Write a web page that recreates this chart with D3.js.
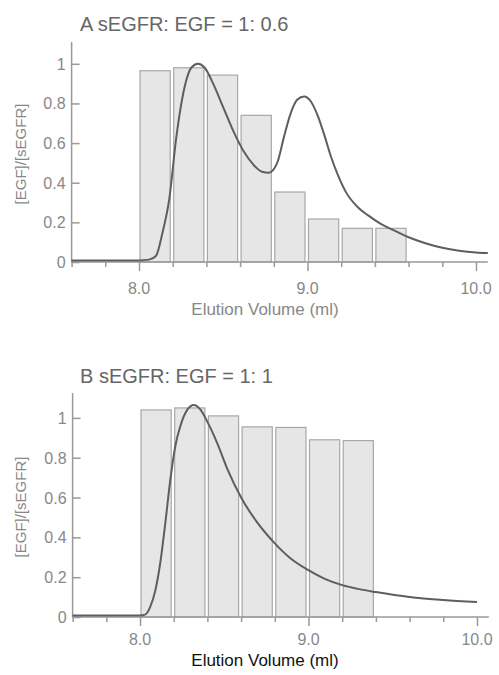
<!DOCTYPE html>
<html>
<head>
<meta charset="utf-8">
<script src="https://cdn.jsdelivr.net/npm/d3@7"></script>
<style>
  body { margin: 0; background: #fff; }
  svg { display: block; font-family: "Liberation Sans", Arial, sans-serif; }
</style>
</head>
<body>
<div id="chart"></div>
<script>
'use strict';

// bins are 0.2 ml wide, starting at these volumes
let binStartsA = [8.0, 8.2, 8.4, 8.6, 8.8, 9.0, 9.2, 9.4];
let ratioA = [0.965, 0.98, 0.943, 0.74, 0.353, 0.217, 0.17, 0.17];
let binStartsB = [8.0, 8.2, 8.4, 8.6, 8.8, 9.0, 9.2];
let ratioB = [1.04, 1.05, 1.01, 0.955, 0.952, 0.89, 0.886];

// elution profile traces (normalised)
let curveVolA = [7.6, 7.9, 8.0, 8.06, 8.1, 8.14, 8.18, 8.22, 8.27, 8.31, 8.35, 8.39, 8.44, 8.5, 8.56, 8.62, 8.68,
    8.73, 8.77, 8.82, 8.86, 8.9, 8.94, 8.98, 9.02, 9.06, 9.1, 9.14, 9.18, 9.23, 9.3, 9.36, 9.43, 9.5, 9.6, 9.7, 9.8, 9.9, 10.0, 10.07];
let curveValA = [0.008, 0.008, 0.008, 0.012, 0.03, 0.15, 0.32, 0.62, 0.88, 0.98, 1.0, 0.98, 0.9, 0.78, 0.66, 0.56, 0.49,
    0.455, 0.45, 0.5, 0.63, 0.75, 0.82, 0.835, 0.81, 0.74, 0.64, 0.53, 0.44, 0.35, 0.275, 0.235, 0.195, 0.165, 0.125, 0.095, 0.072, 0.057, 0.048, 0.045];
let curveVolB = [7.6, 8.0, 8.03, 8.06, 8.09, 8.12, 8.15, 8.18, 8.21, 8.24, 8.28, 8.32, 8.36, 8.4, 8.46, 8.52, 8.6, 8.7,
    8.8, 8.9, 9.0, 9.1, 9.2, 9.3, 9.4, 9.6, 9.8, 10.0];
let curveValB = [0.008, 0.008, 0.012, 0.05, 0.13, 0.27, 0.47, 0.69, 0.86, 0.96, 1.04, 1.065, 1.04, 0.98, 0.87, 0.74, 0.6, 0.47,
    0.37, 0.29, 0.235, 0.19, 0.16, 0.14, 0.125, 0.1, 0.085, 0.075];

let yTicks = [0, 0.2, 0.4, 0.6, 0.8, 1];
let xMajorTicks = [8.0, 9.0, 10.0];
let xMinorTicks = d3.range(7.6, 10.05, 0.2).map(v => +v.toFixed(1));

const W = 499, H = 675;
const svg = d3.select('#chart').append('svg').attr('width', W).attr('height', H);

function drawPanel(o) {
    // 8.0 and 10.0 positions
    let x = d3.scaleLinear().domain([8.0, 10.0]).range([o.x8, o.x10]);
    let y = d3.scaleLinear().domain([0, o.yMax]).range([o.y0, o.yTop]);

    let g = svg.append('g');

    // title
    g.append('text')
        .attr('x', 80).attr('y', o.titleY)
        .attr('font-size', 20).attr('fill', '#666')
        .text(o.title);

    // bars
    g.selectAll('rect.bar')
        .data(o.bins.map((b, i) => ({ b: b, v: o.vals[i] })))
        .join('rect')
        .classed('bar', true)
        .attr('x', d => x(d.b) + 1)
        .attr('width', d => x(d.b + 0.2) - x(d.b) - 3.5)
        .attr('y', d => y(d.v))
        .attr('height', d => y(0) - y(d.v))
        .attr('fill', '#e6e6e6')
        .attr('stroke', '#a8a8a8')
        .attr('stroke-width', 1.2);

    // y axis (ticks point inward)
    let yAxis = g.append('g')
        .attr('transform', `translate(${x(7.6)},0)`)
        .call(d3.axisRight(y).tickValues(yTicks).tickSize(8).tickFormat(''));
    yAxis.select('.domain').attr('d', `M0,${y(0)}V${o.yTop}`);
    yAxis.selectAll('path, line').attr('stroke', '#999').attr('stroke-width', 1.5);

    g.selectAll('text.ytick')
        .data(yTicks)
        .join('text')
        .classed('ytick', true)
        .attr('x', x(7.6) - 6)
        .attr('y', d => y(d) + 6)
        .attr('text-anchor', 'end')
        .attr('font-size', 16).attr('fill', '#888')
        .text(d => d === 0 ? '0' : d === 1 ? '1' : d3.format('.1f')(d));

    // x axis
    let xAxis = g.append('g')
        .attr('transform', `translate(0,${y(0)})`)
        .call(d3.axisBottom(x).tickValues(xMinorTicks).tickSize(5).tickFormat(''));
    xAxis.select('.domain').attr('d', `M${x(7.6)},0H${x(10.07)}`);
    xAxis.selectAll('path, line').attr('stroke', '#999').attr('stroke-width', 1.5);
    xAxis.selectAll('.tick line').filter(d => xMajorTicks.includes(d)).attr('y2', 9);

    g.selectAll('text.xtick')
        .data(xMajorTicks)
        .join('text')
        .classed('xtick', true)
        .attr('x', d => x(d))
        .attr('y', y(0) + o.xLabelDy)
        .attr('text-anchor', 'middle')
        .attr('font-size', 16).attr('fill', '#888')
        .text(d => d3.format('.1f')(d));

    // axis titles
    g.append('text')
        .attr('x', 265).attr('y', o.xTitleY)
        .attr('text-anchor', 'middle')
        .attr('font-size', 17).attr('fill', o.xTitleColor)
        .text('Elution Volume (ml)');

    g.append('text')
        .attr('transform', `translate(26,${(y(0) + o.yTop) / 2 + 2}) rotate(-90)`)
        .attr('text-anchor', 'middle')
        .attr('font-size', 15).attr('fill', '#888')
        .text('[EGF]/[sEGFR]');

    // elution trace
    let line = d3.line()
        .x(d => x(d[0]))
        .y(d => y(d[1]))
        .curve(d3.curveMonotoneX);
    g.append('path')
        .datum(o.cx.map((v, i) => [v, o.cy[i]]))
        .attr('d', line)
        .attr('fill', 'none')
        .attr('stroke', '#5e5e5e')
        .attr('stroke-width', 2);
}

drawPanel({
    title: 'A sEGFR: EGF = 1: 0.6', titleY: 31,
    x8: 139, x10: 476, y0: 262, yTop: 42, yMax: 1.11,
    bins: binStartsA, vals: ratioA, cx: curveVolA, cy: curveValA,
    xLabelDy: 32, xTitleY: 315, xTitleColor: '#888'
});

drawPanel({
    title: 'B sEGFR: EGF = 1: 1', titleY: 383,
    x8: 140, x10: 477, y0: 617, yTop: 393, yMax: 1.125,
    bins: binStartsB, vals: ratioB, cx: curveVolB, cy: curveValB,
    xLabelDy: 28, xTitleY: 666, xTitleColor: '#111'
});
</script>
</body>
</html>
